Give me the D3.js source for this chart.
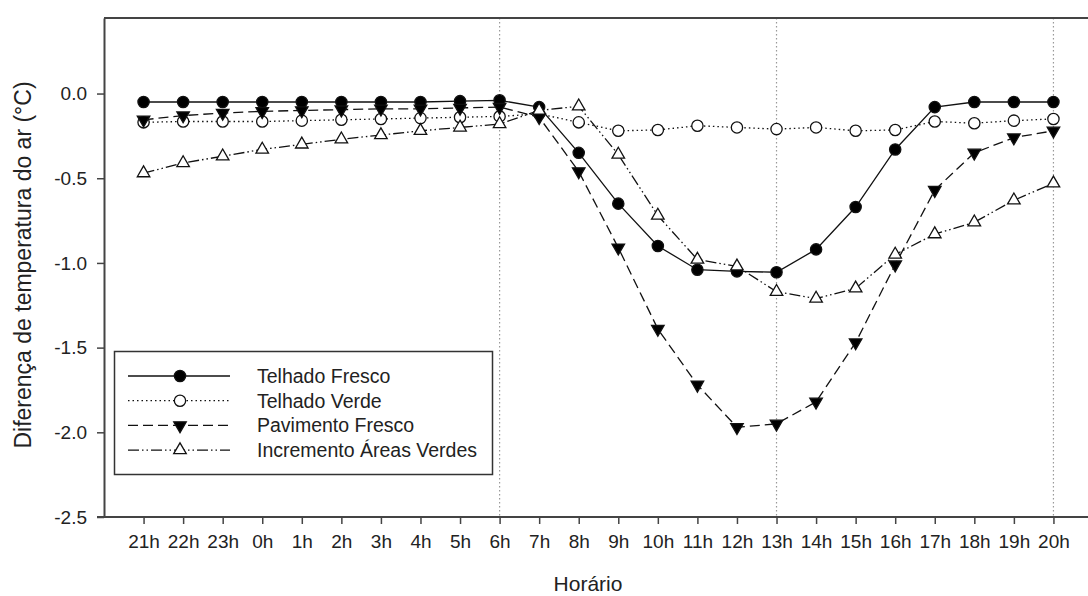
<!DOCTYPE html>
<html>
<head>
<meta charset="utf-8">
<script src="https://cdn.jsdelivr.net/npm/d3@7"></script>
<style>
  body { margin: 0; background: #fff; }
  text { font-family: "Liberation Sans", Arial, sans-serif; fill: #222; }
</style>
</head>
<body>
<script>
var width = 1088,
    height = 596;

// hours on the x axis
var hours = ["21h", "22h", "23h", "0h", "1h", "2h", "3h", "4h", "5h", "6h", "7h", "8h",
             "9h", "10h", "11h", "12h", "13h", "14h", "15h", "16h", "17h", "18h", "19h", "20h"];

var yTicks = [0.0, -0.5, -1.0, -1.5, -2.0, -2.5];
var refHours = ["6h", "13h", "20h"];

// series values (°C)
var telhadoFresco = [-0.05, -0.05, -0.05, -0.05, -0.05, -0.05, -0.05, -0.05, -0.045, -0.04, -0.08, -0.35,
                     -0.65, -0.90, -1.04, -1.05, -1.055, -0.92, -0.67, -0.33, -0.08, -0.05, -0.05, -0.05];
var telhadoVerde = [-0.17, -0.165, -0.165, -0.165, -0.16, -0.155, -0.15, -0.145, -0.14, -0.135, -0.12, -0.17,
                    -0.22, -0.215, -0.19, -0.20, -0.21, -0.20, -0.22, -0.215, -0.165, -0.175, -0.16, -0.15];
var pavimentoFresco = [-0.155, -0.13, -0.115, -0.105, -0.10, -0.095, -0.09, -0.09, -0.085, -0.08, -0.14, -0.46,
                       -0.91, -1.39, -1.72, -1.97, -1.95, -1.82, -1.47, -1.01, -0.57, -0.35, -0.26, -0.22];
var incremento = [-0.47, -0.41, -0.37, -0.33, -0.30, -0.27, -0.245, -0.22, -0.20, -0.18, -0.10, -0.075,
                  -0.36, -0.72, -0.98, -1.02, -1.17, -1.21, -1.15, -0.95, -0.83, -0.76, -0.63, -0.53];

var seriesNames = ["Telhado Fresco", "Telhado Verde", "Pavimento Fresco", "Incremento Áreas Verdes"];

var series = [
  {name: seriesNames[0], values: telhadoFresco, dash: null, symbol: d3.symbolCircle, fill: "#000", size: 100},
  {name: seriesNames[1], values: telhadoVerde, dash: "1.5,3", symbol: d3.symbolCircle, fill: "#fff", size: 100},
  {name: seriesNames[2], values: pavimentoFresco, dash: "10,5", symbol: d3.symbolTriangle, fill: "#000", size: 68, rot: 180},
  {name: seriesNames[3], values: incremento, dash: "11,3,1.5,3,1.5,3", symbol: d3.symbolTriangle, fill: "#fff", size: 68}
];

var margin = {left: 104, top: 18, bottom: 517};

var x = d3.scaleLinear()
    .domain([-1, 24])
    .range([margin.left, 1093]);

var y = d3.scaleLinear()
    .domain([-2.5, 0.446])
    .range([margin.bottom, margin.top]);

var svg = d3.select("body").append("svg")
    .attr("width", width)
    .attr("height", height);

svg.append("rect").attr("width", width).attr("height", height).attr("fill", "#fff");

// dotted reference lines
svg.selectAll(".ref")
    .data(refHours)
    .enter().append("line")
    .attr("x1", function (d) { return x(hours.indexOf(d)); })
    .attr("x2", function (d) { return x(hours.indexOf(d)); })
    .attr("y1", margin.top)
    .attr("y2", margin.bottom)
    .attr("stroke", "#999")
    .attr("stroke-width", 1.2)
    .attr("stroke-dasharray", "1.5,2.5");

// frame top
svg.append("line")
    .attr("x1", margin.left).attr("x2", width)
    .attr("y1", margin.top).attr("y2", margin.top)
    .attr("stroke", "#444").attr("stroke-width", 2);

// axes
var xAxis = d3.axisBottom(x)
    .tickValues(d3.range(hours.length))
    .tickFormat(function (i) { return hours[i]; })
    .tickSizeInner(7)
    .tickSizeOuter(0)
    .tickPadding(11);

var yAxis = d3.axisLeft(y)
    .tickValues(yTicks)
    .tickFormat(function (d) { return d.toFixed(1); })
    .tickSizeInner(7)
    .tickSizeOuter(0)
    .tickPadding(10);

var gx = svg.append("g")
    .attr("transform", "translate(0," + margin.bottom + ")")
    .call(xAxis);
gx.select(".domain").attr("d", "M" + (margin.left - 7) + ",0H" + width);

var gy = svg.append("g")
    .attr("transform", "translate(" + margin.left + ",0)")
    .call(yAxis);

svg.selectAll(".domain").attr("stroke", "#444").attr("stroke-width", 2);
svg.selectAll(".tick line").attr("stroke", "#444").attr("stroke-width", 1.5);
svg.selectAll(".tick text")
    .style("font-family", "'Liberation Sans', Arial, sans-serif")
    .style("font-size", "19px")
    .attr("fill", "#222");

// axis titles
svg.append("text")
    .attr("x", 588)
    .attr("y", 591)
    .attr("text-anchor", "middle")
    .style("font-size", "21px")
    .text("Horário");

svg.append("text")
    .attr("transform", "translate(31,265)rotate(-90)")
    .attr("text-anchor", "middle")
    .style("font-size", "23px")
    .text("Diferença de temperatura do ar (°C)");

var line = d3.line()
    .x(function (d, i) { return x(i); })
    .y(function (d) { return y(d); });

var g = svg.append("g");

series.forEach(function (s) {
  g.append("path")
      .datum(s.values)
      .attr("d", line)
      .attr("fill", "none")
      .attr("stroke", "#111")
      .attr("stroke-width", 1.3)
      .attr("stroke-dasharray", s.dash);
});

series.forEach(function (s) {
  g.selectAll(null)
      .data(s.values)
      .enter().append("path")
      .attr("d", d3.symbol().type(s.symbol).size(s.size))
      .attr("transform", function (d, i) {
        return "translate(" + x(i) + "," + y(d) + ")" + (s.rot ? "rotate(" + s.rot + ")" : "");
      })
      .attr("fill", s.fill)
      .attr("stroke", "#111")
      .attr("stroke-width", 1.3);
});

// legend
var legend = svg.append("g");
legend.append("rect")
    .attr("x", 114.5).attr("y", 351.5)
    .attr("width", 378).attr("height", 123)
    .attr("fill", "#fff")
    .attr("stroke", "#333")
    .attr("stroke-width", 1.5);

var rows = legend.selectAll(".row")
    .data(series)
    .enter().append("g")
    .attr("transform", function (d, i) { return "translate(0," + (376 + i * 24.7) + ")"; });

rows.append("line")
    .attr("x1", 128).attr("x2", 230)
    .attr("stroke", "#111")
    .attr("stroke-width", 1.3)
    .attr("stroke-dasharray", function (d) { return d.dash; });

rows.append("path")
    .attr("d", function (d) { return d3.symbol().type(d.symbol).size(d.size)(); })
    .attr("transform", function (d) { return "translate(180,0)" + (d.rot ? "rotate(" + d.rot + ")" : ""); })
    .attr("fill", function (d) { return d.fill; })
    .attr("stroke", "#111")
    .attr("stroke-width", 1.3);

rows.append("text")
    .attr("x", 257)
    .attr("dy", "0.35em")
    .style("font-size", "19.5px")
    .text(function (d) { return d.name; });
</script>
</body>
</html>
